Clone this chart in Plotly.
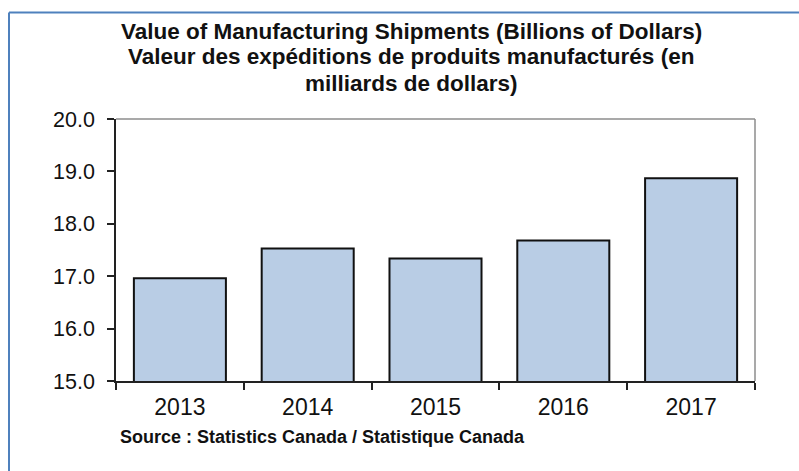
import plotly.graph_objects as go

years = ["2013", "2014", "2015", "2016", "2017"]
values = [16.96, 17.53, 17.34, 17.68, 18.87]
y_ticks = [15.0, 16.0, 17.0, 18.0, 19.0, 20.0]
title_lines = [
    "Value of Manufacturing Shipments (Billions of Dollars)",
    "Valeur des expéditions de produits manufacturés (en",
    "milliards de dollars)",
]
source_text = "Source : Statistics Canada / Statistique Canada"

W, H = 799, 471
L, R, T, B = 116, 44, 119, 90
PW, PH = W - L - R, H - T - B

def px(x):
    return (x - L) / PW

def py(y):
    return (H - B - y) / PH

FONT = "Liberation Sans, Arial, sans-serif"

fig = go.Figure(go.Bar(
    x=years, y=values,
    marker=dict(color="#B9CDE5", line=dict(color="#111111", width=2)),
    width=0.72,
))

annotations = []
for i, (line, yy) in enumerate(zip(title_lines, [31, 57, 83])):
    annotations.append(dict(
        text="<b>%s</b>" % line, x=px(411), y=py(yy), xref="paper", yref="paper",
        xanchor="center", yanchor="middle", showarrow=False,
        font=dict(family=FONT, size=22.5, color="#111111"),
    ))
annotations.append(dict(
    text="<b>%s</b>" % source_text, x=px(118), y=py(437), xref="paper", yref="paper",
    xanchor="left", yanchor="middle", showarrow=False,
    font=dict(family=FONT, size=18, color="#111111"),
))

shapes = [
    # gray top and right frame
    dict(type="line", xref="paper", yref="paper", x0=0, y0=1, x1=1, y1=1,
         line=dict(color="#8c8c8c", width=1.5)),
    dict(type="line", xref="paper", yref="paper", x0=1, y0=0, x1=1, y1=1,
         line=dict(color="#8c8c8c", width=1.5)),
    # blue outer border
    dict(type="line", xref="paper", yref="paper", x0=px(9), y0=py(12.5), x1=px(805), y1=py(12.5),
         line=dict(color="#4F81BD", width=2)),
    dict(type="line", xref="paper", yref="paper", x0=px(9), y0=py(12.5), x1=px(9), y1=py(480),
         line=dict(color="#4F81BD", width=2)),
]

fig.update_layout(
    width=W, height=H,
    margin=dict(l=L, r=R, t=T, b=B, pad=0),
    paper_bgcolor="white", plot_bgcolor="white",
    showlegend=False,
    annotations=annotations, shapes=shapes,
    font=dict(family=FONT, color="#111111"),
    xaxis=dict(
        showline=True, linecolor="#222222", linewidth=1.5,
        ticks="outside", tickson="boundaries", ticklen=7, tickcolor="#222222", tickwidth=1.5,
        tickfont=dict(family=FONT, size=23, color="#111111"),
        ticklabelstandoff=5,
        showgrid=False, zeroline=False,
    ),
    yaxis=dict(
        range=[15, 20], tickvals=y_ticks, ticktext=["%.1f" % v for v in y_ticks],
        showline=True, linecolor="#222222", linewidth=1.5,
        ticks="outside", ticklen=7, tickcolor="#222222", tickwidth=1.5,
        tickfont=dict(family=FONT, size=21.5, color="#111111"),
        ticklabelstandoff=8,
        showgrid=False, zeroline=False,
    ),
)

fig.write_html("out.html")
